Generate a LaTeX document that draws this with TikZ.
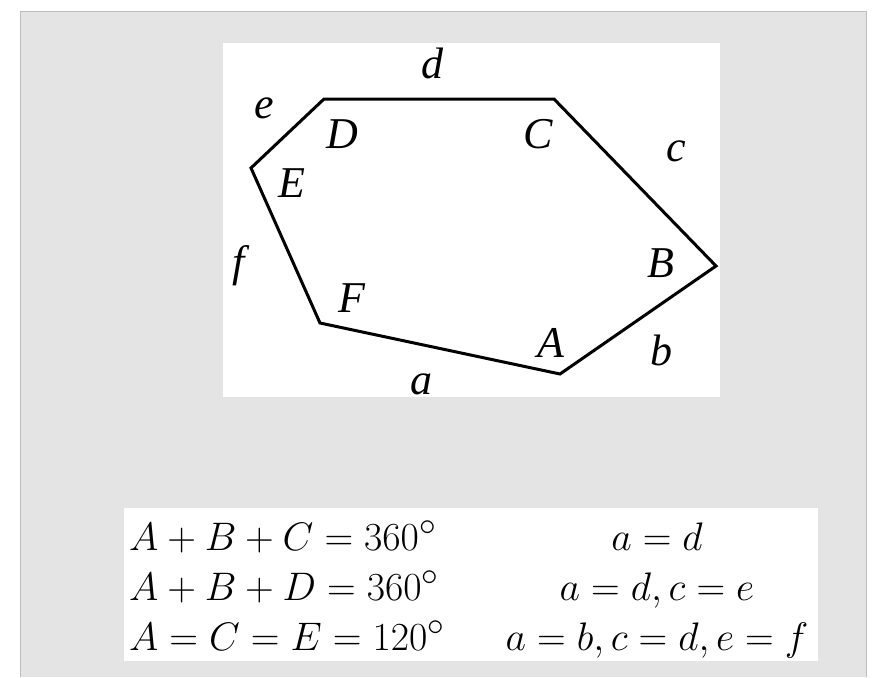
\documentclass[tikz,border=0pt]{standalone}
\usepackage{fontspec}
\newfontfamily\lblfont{Liberation Serif}
\definecolor{panelgray}{HTML}{E4E4E4}
\definecolor{edgegray}{HTML}{BDBDBD}
\newcommand{\bigeq}[1]{\scalebox{1.6}{\fontsize{24.88}{30}\selectfont$#1$}}
\tikzset{
  vlabel/.style={font=\lblfont\itshape\fontsize{44}{44}\selectfont, inner sep=0pt},
  elabel/.style={font=\lblfont\itshape\fontsize{44}{44}\selectfont, inner sep=0pt},
  eqn/.style={inner sep=0pt},
  hexline/.style={line width=3pt, line join=miter},
}
\begin{document}
\begin{tikzpicture}[x=1pt,y=-1pt]
\useasboundingbox (0,0) rectangle (875,677);
\fill[white] (0,0) rectangle (875,677);
\fill[panelgray] (20,12) rectangle (866,677);
\draw[edgegray, line width=1pt] (20,677) -- (20,12) -- (866,12) -- (866,677);
% white panels
\fill[white] (223,43) rectangle (720,397);
\fill[white] (124,508) rectangle (818,661);
% vertices
\coordinate (A) at (560,374);
\coordinate (B) at (716,266);
\coordinate (C) at (554,99);
\coordinate (D) at (324,99);
\coordinate (E) at (251,168);
\coordinate (F) at (320,323);
\draw[hexline] (A) -- (B) -- (C) -- (D) -- (E) -- (F) -- cycle;
% vertex labels
\node[vlabel] (lA) at (551,343) {A};
\node[vlabel] (lB) at (661,263) {B};
\node[vlabel] (lC) at (538,134) {C};
\node[vlabel] (lD) at (342,134) {D};
\node[vlabel] (lE) at (292,183) {E};
\node[vlabel] (lF) at (352,298) {F};
% edge labels
\node[elabel] (la) at (421,384) {a};
\node[elabel] (lb) at (661,350) {b};
\node[elabel] (lc) at (676,151) {c};
\node[elabel] (ld) at (432,63) {d};
\node[elabel] (le) at (264,108) {e};
\node[elabel] (lf) at (239,266) {f};
% equations
\node[eqn, anchor=base west] (eq1) at (129,550) {\bigeq{A+B+C=360^\circ}};
\node[eqn, anchor=base west] (eq2) at (129,600) {\bigeq{A+B+D=360^\circ}};
\node[eqn, anchor=base west] (eq3) at (129,650) {\bigeq{A=C=E=120^\circ}};
\node[eqn, anchor=base] (eq4) at (657,550) {\bigeq{a=d}};
\node[eqn, anchor=base] (eq5) at (657,600) {\bigeq{a=d, c=e}};
\node[eqn, anchor=base] (eq6) at (657,650) {\bigeq{a=b, c=d, e=f}};
\end{tikzpicture}
\end{document}
